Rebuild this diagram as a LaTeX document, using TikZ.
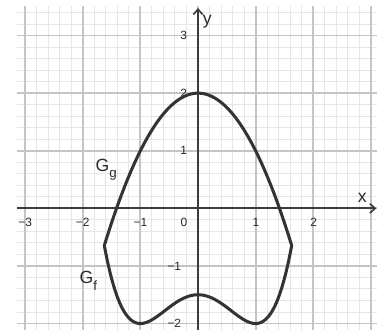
\documentclass[tikz,border=0pt]{standalone}
\usepackage{fontspec}
\setmainfont{Liberation Sans}
\usetikzlibrary{arrows.meta}
\definecolor{minorgrid}{HTML}{E6E6E6}
\definecolor{majorgrid}{HTML}{C4C4C4}
\definecolor{axiscol}{HTML}{3C3C3C}
\definecolor{curvecol}{HTML}{333333}
\definecolor{textcol}{HTML}{2A2A2A}
\begin{document}
\begin{tikzpicture}[
  minorline/.style={draw=minorgrid, line width=0.5pt},
  majorline/.style={draw=majorgrid, line width=0.9pt},
  axisline/.style={draw=axiscol, line width=0.9pt, -{Straight Barb[length=2.6pt,width=4.6pt,line width=0.8pt]}},
  curveline/.style={draw=curvecol, line width=1.5pt, line join=round},
  ticklab/.style={font=\fontsize{5.9}{7}\selectfont, text=textcol, inner sep=0pt},
  axlab/.style={font=\fontsize{8.7}{10}\selectfont, text=textcol, inner sep=0pt},
  graphlab/.style={font=\fontsize{8.7}{10}\selectfont, text=textcol, inner sep=0pt, anchor=base west}
]
\useasboundingbox[fill=white] (-3.4375,-2.104) rectangle (3.1076,3.617);
% grid
\draw[minorline] (-3.14,-2.104) grid[step=0.2] (3.1076,3.513);
\draw[majorline] (-3.14,-2.104) grid[step=1] (3.1076,3.513);
% axes
\coordinate (xl) at (-3.14,0);
\coordinate (xr) at (3.097,0);
\coordinate (yb) at (0,-2.104);
\coordinate (yt) at (0,3.478);
\draw[axisline] (xl) -- (xr);
\draw[axisline] (yb) -- (yt);
\node[axlab] (xlab) at (2.85,0.19) {x};
\node[axlab] (ylab) at (0.16,3.24) {y};
% tick labels
\node[ticklab] (tx1) at (-3,-0.243) {−3};
\node[ticklab] (tx2) at (-2,-0.243) {−2};
\node[ticklab] (tx3) at (-1,-0.243) {−1};
\node[ticklab] (tx0) at (-0.243,-0.243) {0};
\node[ticklab] (tx4) at (1.007,-0.243) {1};
\node[ticklab] (tx5) at (2.01,-0.243) {2};
\node[ticklab, anchor=east] (ty1) at (-0.182,1) {1};
\node[ticklab, anchor=east] (ty2) at (-0.182,2) {2};
\node[ticklab, anchor=east] (ty3) at (-0.182,3) {3};
\node[ticklab, anchor=east] (ty4) at (-0.286,-1) {−1};
\node[ticklab, anchor=east] (ty5) at (-0.286,-2) {−2};
% curves
\draw[curveline] plot[domain=-1.6266:1.6266, samples=120, smooth] (\x,{2-\x*\x})
  -- plot[domain=1.6266:-1.6266, samples=120, smooth] (\x,{0.5*\x*\x*\x*\x-\x*\x-1.5}) -- cycle;
% graph labels
\node[graphlab] (gg) at (-1.783,0.631) {G\raisebox{-2.6pt}{\fontsize{6.6}{7}\selectfont g}};
\node[graphlab] (gf) at (-2.06,-1.31) {G\raisebox{-3.2pt}{\fontsize{6.6}{7}\selectfont f}};
\end{tikzpicture}
\end{document}
